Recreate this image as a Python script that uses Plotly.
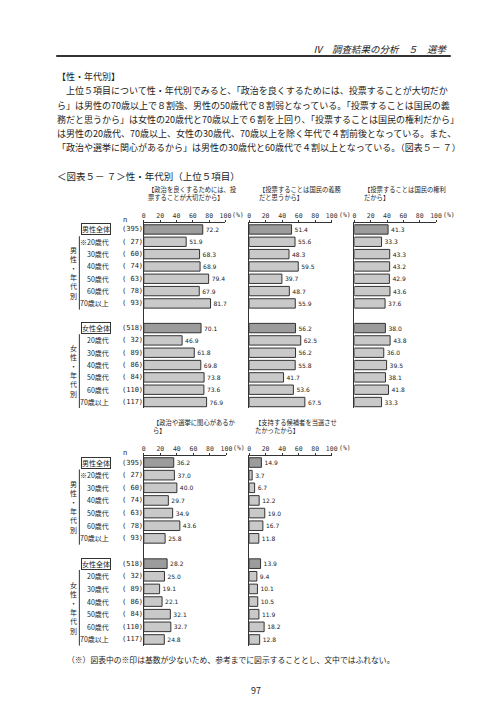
import plotly.graph_objects as go

W, H = 496, 702

# ---------------- data ----------------
row_labels = ["男性全体", "※20歳代", "30歳代", "40歳代", "50歳代", "60歳代", "70歳以上",
              "女性全体", "20歳代", "30歳代", "40歳代", "50歳代", "60歳代", "70歳以上"]
n_counts = [395, 27, 60, 74, 63, 78, 93, 518, 32, 89, 86, 84, 110, 117]
total_flags = [True, False, False, False, False, False, False,
               True, False, False, False, False, False, False]

vote_important = [72.2, 51.9, 68.3, 68.9, 79.4, 67.9, 81.7, 70.1, 46.9, 61.8, 69.8, 73.8, 73.6, 76.9]
civic_duty = [51.4, 55.6, 48.3, 59.5, 39.7, 48.7, 55.9, 56.2, 62.5, 56.2, 55.8, 41.7, 53.6, 67.5]
civic_right = [41.3, 33.3, 43.3, 43.2, 42.9, 43.6, 37.6, 38.0, 43.8, 36.0, 39.5, 38.1, 41.8, 33.3]
interest = [36.2, 37.0, 40.0, 29.7, 34.9, 43.6, 25.8, 28.2, 25.0, 19.1, 22.1, 32.1, 32.7, 24.8]
support_candidate = [14.9, 3.7, 6.7, 12.2, 19.0, 16.7, 11.8, 13.9, 9.4, 10.1, 10.5, 11.9, 18.2, 12.8]

panel_titles = [
    "【政治を良くするためには、投<br>票することが大切だから】",
    "【投票することは国民の義務<br>だと思うから】",
    "【投票することは国民の権利<br>だから】",
    "【政治や選挙に関心があるか<br>ら】",
    "【支持する候補者を当選させ<br>たかったから】",
]
tick_values = [0, 20, 40, 60, 80, 100]

paragraph = [
    "【性・年代別】",
    "　上位５項目について性・年代別でみると、「政治を良くするためには、投票することが大切だか",
    "ら」は男性の70歳以上で８割強、男性の50歳代で８割弱となっている。「投票することは国民の義",
    "務だと思うから」は女性の20歳代と70歳以上で６割を上回り、「投票することは国民の権利だから」",
    "は男性の20歳代、70歳以上、女性の30歳代、70歳以上を除く年代で４割前後となっている。また、",
    "「政治や選挙に関心があるから」は男性の30歳代と60歳代で４割以上となっている。（図表５－ ７）",
]
header_text = "Ⅳ　調査結果の分析　５　選挙"
caption_text = "＜図表５－ ７＞性・年代別（上位５項目）"
footnote_text = "（※）図表中の※印は基数が少ないため、参考までに図示することとし、文中ではふれない。"
page_number = "97"

# ---------------- layout helpers ----------------
def px(x):
    return x / W

def py(y):
    return 1 - y / H

# row positions (gap between male and female groups)
row_pos = list(range(7)) + list(range(8, 15))

JP = "Noto Sans CJK JP"
NUM = "DejaVu Sans Mono"
DARK = "#9c9c9c"
LIGHT = "#c9c9c9"
EDGE = "#333333"

# panel geometry: (values, x0px, x1px, block, title_x, title_y)
panels = [
    (vote_important, 136, 219, "top", 138, 185),
    (civic_duty, 243, 327, "top", 251, 185),
    (civic_right, 350, 433, "top", 358, 185),
    (interest, 136, 220, "bottom", 143, 419),
    (support_candidate, 243, 327, "bottom", 247, 419),
]
blocks = {"top": (215.3, 400.2), "bottom": (448.2, 637.8)}

fig = go.Figure()
annotations = []
shapes = []
layout_axes = {}

for i, (vals, x0, x1, block, tx, ty) in enumerate(panels):
    k = i + 1
    xa = "x" if k == 1 else f"x{k}"
    ya = "y" if k == 1 else f"y{k}"
    top, bot = blocks[block]
    colors = [DARK if t else LIGHT for t in total_flags]
    fig.add_trace(go.Bar(
        x=vals, y=row_pos, orientation="h",
        marker=dict(color=colors, line=dict(color=EDGE, width=1)),
        width=0.76,
        texttemplate="%{x:.1f}", textposition="outside",
        constraintext="none", cliponaxis=False,
        textfont=dict(size=6, family="DejaVu Sans", color="#222"),
        xaxis=xa, yaxis=ya, showlegend=False, hoverinfo="skip",
    ))
    layout_axes["xaxis" if k == 1 else f"xaxis{k}"] = dict(
        domain=[px(x0), px(x1)], range=[0, 100], side="top", anchor=ya,
        tickvals=tick_values, ticktext=[str(v) for v in tick_values],
        showline=True, linecolor=EDGE, linewidth=1,
        ticks="outside", ticklen=2, tickcolor=EDGE,
        tickfont=dict(size=6.5, family=NUM, color="#333"),
        showgrid=False, zeroline=False, fixedrange=True,
    )
    layout_axes["yaxis" if k == 1 else f"yaxis{k}"] = dict(
        domain=[py(bot), py(top)], range=[14.5, -0.5], anchor=xa,
        showline=True, linecolor=EDGE, linewidth=1,
        showticklabels=False, ticks="", showgrid=False, zeroline=False,
        fixedrange=True,
    )
    # (%) unit label
    annotations.append(dict(
        x=px(x1 + 5), y=py(top - 8), xref="paper", yref="paper",
        text="(%)", showarrow=False, xanchor="left", yanchor="middle",
        font=dict(size=6.5, family=NUM, color="#333"),
    ))
    # panel title
    annotations.append(dict(
        x=px(tx), y=py(ty), xref="paper", yref="paper",
        text=panel_titles[i], showarrow=False, xanchor="left", yanchor="middle",
        align="left", font=dict(size=6.3, family=JP, color="#222"),
    ))

# left-side row labels for both blocks
for block, ya in (("top", "y"), ("bottom", "y4")):
    top, bot = blocks[block]
    annotations.append(dict(
        x=px(117), y=py(top - 4), xref="paper", yref="paper", text="n",
        showarrow=False, xanchor="center", yanchor="middle",
        font=dict(size=7, family=JP, color="#222"),
    ))
    for lab, n, t, r in zip(row_labels, n_counts, total_flags, row_pos):
        if t:
            annotations.append(dict(
                x=px(103), y=r, xref="paper", yref=ya, text=lab,
                showarrow=False, xanchor="right", yanchor="middle",
                bordercolor=EDGE, borderwidth=1, borderpad=0, bgcolor="white",
                font=dict(size=7, family=JP, color="#222"),
            ))
        else:
            annotations.append(dict(
                x=px(103), y=r, xref="paper", yref=ya, text=lab,
                showarrow=False, xanchor="right", yanchor="middle",
                font=dict(size=7, family=JP, color="#222"),
            ))
        ntxt = f"({n})" if n >= 100 else f"(\u2007{n})"
        annotations.append(dict(
            x=px(112), y=r, xref="paper", yref=ya, text=ntxt,
            showarrow=False, xanchor="left", yanchor="middle",
            font=dict(size=7, family=NUM, color="#222"),
        ))
    # vertical group labels and brackets
    for grp, mid, a, b in (("男<br>性<br>・<br>年<br>代<br>別", 3.5, 0.55, 6.5),
                           ("女<br>性<br>・<br>年<br>代<br>別", 11.5, 8.5, 14.5)):
        annotations.append(dict(
            x=px(65), y=mid, xref="paper", yref=ya, text=grp,
            showarrow=False, xanchor="center", yanchor="middle",
            font=dict(size=7, family=JP, color="#222"),
        ))
        shapes.append(dict(
            type="line", xref="paper", yref=ya, x0=px(70.5), x1=px(70.5),
            y0=a, y1=b, line=dict(color=EDGE, width=1),
        ))

# page header, rule, paragraph, caption, footnote, page number
annotations.append(dict(
    x=px(447), y=py(41), xref="paper", yref="paper", text=f"<i>{header_text}</i>",
    showarrow=False, xanchor="right", yanchor="middle",
    font=dict(size=9.5, family=JP, color="#222"),
))
shapes.append(dict(type="line", xref="paper", yref="paper",
                   x0=px(47), x1=px(448), y0=py(48), y1=py(48),
                   line=dict(color="#333", width=2)))

para_y = [69, 83, 97, 111, 125, 139]
for txt, yy in zip(paragraph, para_y):
    annotations.append(dict(
        x=px(46), y=py(yy), xref="paper", yref="paper", text=txt,
        showarrow=False, xanchor="left", yanchor="middle",
        font=dict(size=9, family=JP, color="#222"),
    ))
annotations.append(dict(
    x=px(46), y=py(168), xref="paper", yref="paper", text=caption_text,
    showarrow=False, xanchor="left", yanchor="middle",
    font=dict(size=9.5, family=JP, color="#222"),
))
annotations.append(dict(
    x=px(56), y=py(651), xref="paper", yref="paper", text=footnote_text,
    showarrow=False, xanchor="left", yanchor="middle",
    font=dict(size=7.8, family=JP, color="#222"),
))
annotations.append(dict(
    x=px(250), y=py(682), xref="paper", yref="paper", text=page_number,
    showarrow=False, xanchor="center", yanchor="middle",
    font=dict(size=9, family=JP, color="#222"),
))

fig.update_layout(
    width=W, height=H, margin=dict(l=0, r=0, t=0, b=0),
    paper_bgcolor="white", plot_bgcolor="white",
    bargap=0.2, annotations=annotations, shapes=shapes,
    showlegend=False, **layout_axes,
)

fig.write_html("out.html")
